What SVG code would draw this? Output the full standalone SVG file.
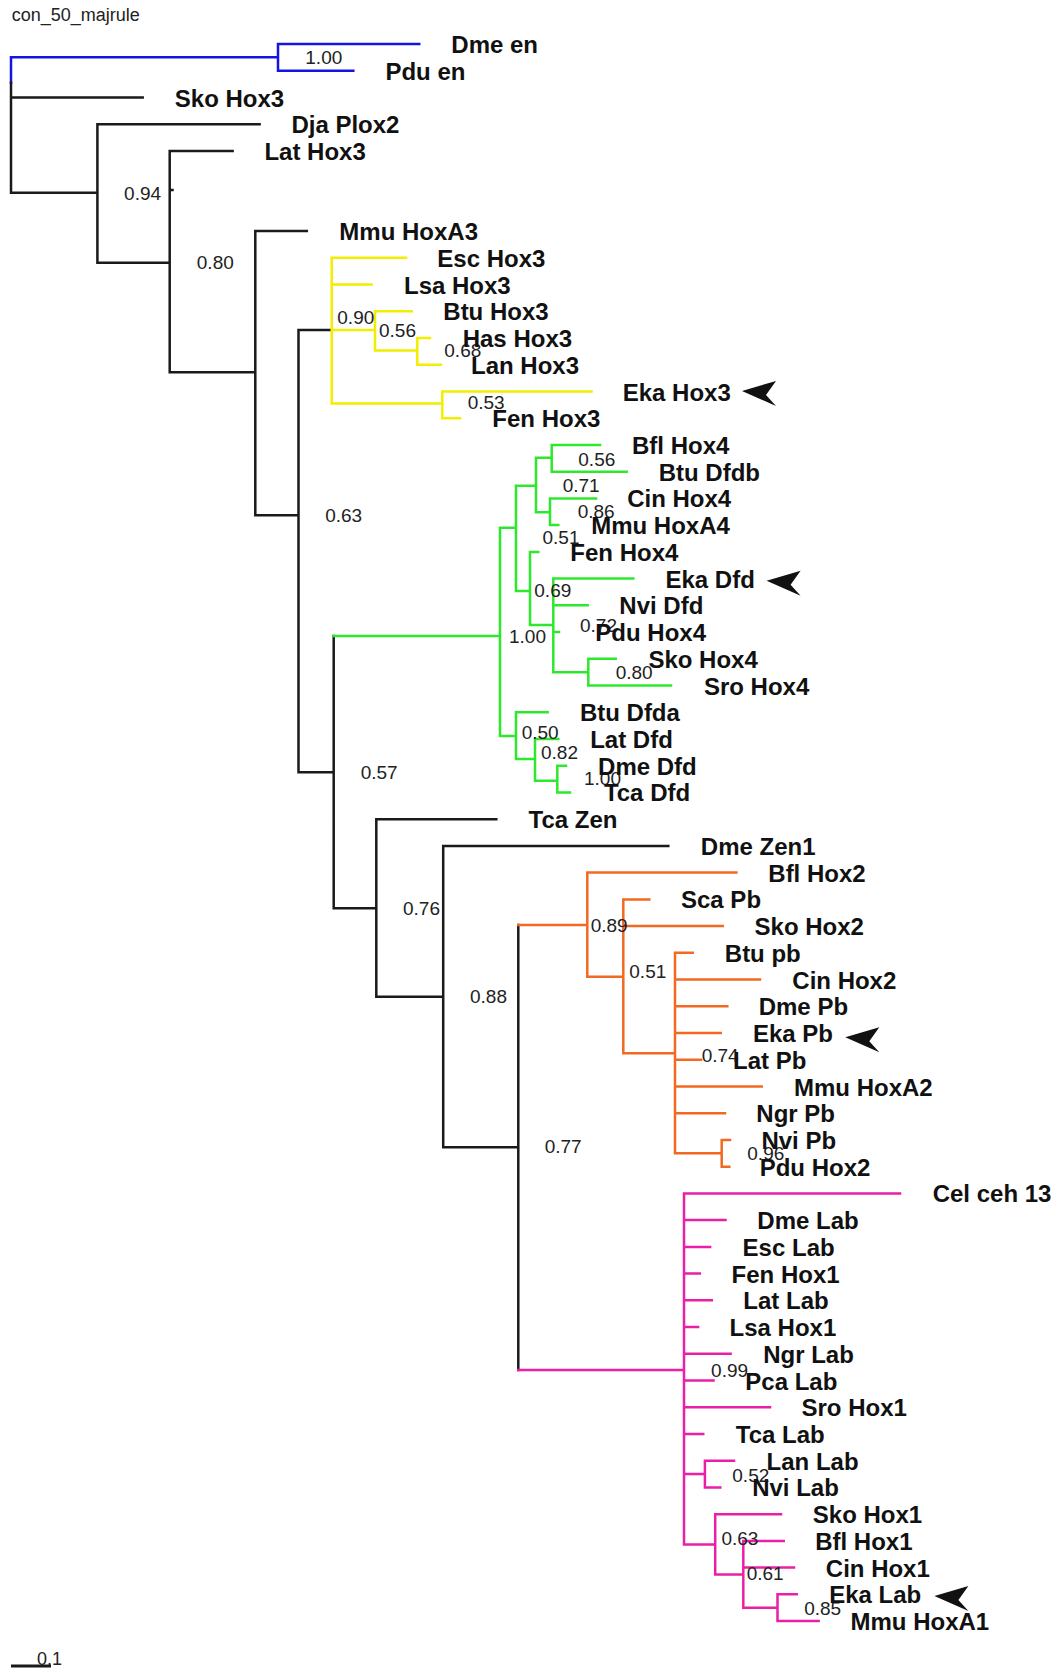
<svg xmlns="http://www.w3.org/2000/svg" xmlns:xlink="http://www.w3.org/1999/xlink" width="1057" height="1673" viewBox="0 0 1057 1673">
<style>
.e{fill:none;stroke-width:2.5;stroke-linecap:square}
.k{stroke:#1a1a1a}.b{stroke:#1414e0}.y{stroke:#f2ee00}.g{stroke:#2ee82e}.o{stroke:#f26a22}.m{stroke:#ea1fa5}
.lf{font-family:"Liberation Sans",Arial,sans-serif;font-weight:bold;font-size:24px;fill:#111}
.sp{font-family:"Liberation Sans",Arial,sans-serif;font-size:19px;fill:#222}
.ti{font-family:"Liberation Sans",Arial,sans-serif;font-size:18px;fill:#222}
</style>
<defs><path id="arr" d="M0,0 L34,-10 L24,4 L34,15 Z" fill="#111"/></defs>
<rect width="1057" height="1673" fill="#fff"/>
<text class="ti" x="11.8" y="20.7">con_50_majrule</text>
<g id="connectors">
<path class="e b" d="M11,57.3V82.7M11,57.3H278M278,44V70.7M278,44H419.2M278,70.7H353.3"/>
<path class="e k" d="M11,82.7V192.7M11,97.5H142.7M11,192.7H97.4M97.4,124.2V262.7M97.4,124.2H259.6M97.4,262.7H169.7M169.7,150.9V372.3M169.7,150.9H232.6M169.7,190H172.5M169.7,372.3H255.3M255.3,231.1V515.3M255.3,231.1H306.8M255.3,515.3H298.5M298.5,330V772.3M298.5,330H331.7M298.5,772.3H333.7M333.7,636V908.3M333.7,908.3H376.3M376.3,819.2V996.7M376.3,819.2H496.3M376.3,996.7H443.2M443.2,845.9V1147.3M443.2,845.9H668.3M443.2,1147.3H518.3M518.3,925V1370"/>
<path class="e y" d="M331.7,257.8V403.5M331.7,257.8H406M331.7,284.6H371.7M331.7,330H375M375,311.3V350.5M375,311.3H411.7M375,350.5H417.3M417.3,338V364.8M417.3,338H430M417.3,364.8H441M331.7,403.5H442.3M442.3,391.5V418.2M442.3,391.5H591.5M442.3,418.2H460"/>
<path class="e g" d="M333.7,636H500M500,527.7V736M500,527.7H516M516,485.7V591M516,485.7H536M536,457.7V512.3M536,457.7H551.7M551.7,444.9V471.7M551.7,444.9H600M551.7,471.7H626.7M536,512.3H550M550,498.4V525.1M550,498.4H596M550,525.1H558.3M516,591H530M530,551.9V625M530,551.9H538.3M530,625H553.3M553.3,578.6V672.3M553.3,578.6H633.3M553.3,605.3H587.7M553.3,632.1H559M553.3,672.3H588.3M588.3,658.8V685.5M588.3,658.8H615.7M588.3,685.5H671M500,736H516M516,712.3V759M516,712.3H547.7M516,759H535M535,739V780.7M535,739H558.3M535,780.7H557.3M557.3,765.7V792.4M557.3,765.7H566M557.3,792.4H570"/>
<path class="e o" d="M518.3,925H587.3M587.3,872.6V976.7M587.3,872.6H736.4M587.3,976.7H623.3M623.3,899.4V1053.3M623.3,899.4H649.3M623.3,926.1H722.7M623.3,1053.3H675M675,952.8V1153.3M675,952.8H692.7M675,979.6H760M675,1006.3H727.3M675,1033H720.7M675,1059.7H701M675,1086.5H761.7M675,1113.2H725M675,1153.3H721.7M721.7,1139.9V1166.7M721.7,1139.9H730M721.7,1166.7H729.3"/>
<path class="e m" d="M518.3,1370H684M684,1193.4V1544.6M684,1193.4H900M684,1220.1H725.5M684,1246.9H710.1M684,1273.6H699.8M684,1300.3H711.8M684,1327H698.1M684,1353.8H730.6M684,1380.5H713.5M684,1407.2H770M684,1434H703.2M684,1474H704.9M704.9,1460.7V1487.4M704.9,1460.7H734M704.9,1487.4H720.3M684,1544.6H715.2M715.2,1514.2V1574.6M715.2,1514.2H781M715.2,1574.6H743.3M743.3,1540.9V1607.7M743.3,1540.9H783.7M743.3,1567.6H794M743.3,1607.7H777.5M777.5,1594.3V1621.1M777.5,1594.3H796.7M777.5,1621.1H818.6"/>
</g>
<g id="support">
<text class="sp" x="305.3" y="63.9">1.00</text>
<text class="sp" x="124.1" y="199.9">0.94</text>
<text class="sp" x="196.8" y="269.3">0.80</text>
<text class="sp" x="325.2" y="521.9">0.63</text>
<text class="sp" x="337.3" y="323.6">0.90</text>
<text class="sp" x="379" y="336.6">0.56</text>
<text class="sp" x="444.3" y="356.6">0.68</text>
<text class="sp" x="467.7" y="409.3">0.53</text>
<text class="sp" x="578.3" y="465.9">0.56</text>
<text class="sp" x="562.7" y="492.3">0.71</text>
<text class="sp" x="577.7" y="518.3">0.86</text>
<text class="sp" x="542.5" y="543.6">0.51</text>
<text class="sp" x="534.3" y="596.6">0.69</text>
<text class="sp" x="580" y="631.6">0.72</text>
<text class="sp" x="509" y="642.6">1.00</text>
<text class="sp" x="615.7" y="678.9">0.80</text>
<text class="sp" x="521.7" y="739.3">0.50</text>
<text class="sp" x="541" y="759.3">0.82</text>
<text class="sp" x="584" y="784.9">1.00</text>
<text class="sp" x="360.7" y="778.9">0.57</text>
<text class="sp" x="403" y="914.9">0.76</text>
<text class="sp" x="470" y="1003.3">0.88</text>
<text class="sp" x="590.7" y="931.6">0.89</text>
<text class="sp" x="629.3" y="978.3">0.51</text>
<text class="sp" x="701.7" y="1061.6">0.74</text>
<text class="sp" x="747.3" y="1159.9">0.96</text>
<text class="sp" x="544.7" y="1153.3">0.77</text>
<text class="sp" x="711.1" y="1376.6">0.99</text>
<text class="sp" x="732.3" y="1481.6">0.52</text>
<text class="sp" x="721.4" y="1544.9">0.63</text>
<text class="sp" x="746.7" y="1579.9">0.61</text>
<text class="sp" x="804.2" y="1614.9">0.85</text>
</g>
<g id="leaf-dme-en"><text class="lf" x="451.3" y="53">Dme en</text></g>
<g id="leaf-pdu-en"><text class="lf" x="385.4" y="79.7">Pdu en</text></g>
<g id="leaf-sko-hox3"><text class="lf" x="174.8" y="106.5">Sko Hox3</text></g>
<g id="leaf-dja-plox2"><text class="lf" x="291.4" y="133.2">Dja Plox2</text></g>
<g id="leaf-lat-hox3"><text class="lf" x="264.4" y="159.9">Lat Hox3</text></g>
<g id="leaf-mmu-hoxa3"><text class="lf" x="339.3" y="240.1">Mmu HoxA3</text></g>
<g id="leaf-esc-hox3"><text class="lf" x="437.3" y="266.8">Esc Hox3</text></g>
<g id="leaf-lsa-hox3"><text class="lf" x="404" y="293.6">Lsa Hox3</text></g>
<g id="leaf-btu-hox3"><text class="lf" x="443.3" y="320.3">Btu Hox3</text></g>
<g id="leaf-has-hox3"><text class="lf" x="462.7" y="347">Has Hox3</text></g>
<g id="leaf-lan-hox3"><text class="lf" x="471" y="373.8">Lan Hox3</text></g>
<g id="leaf-eka-hox3"><text class="lf" x="622.7" y="400.5">Eka Hox3</text></g>
<g id="leaf-fen-hox3"><text class="lf" x="492.3" y="427.2">Fen Hox3</text></g>
<g id="leaf-bfl-hox4"><text class="lf" x="632" y="453.9">Bfl Hox4</text></g>
<g id="leaf-btu-dfdb"><text class="lf" x="658.7" y="480.7">Btu Dfdb</text></g>
<g id="leaf-cin-hox4"><text class="lf" x="627.2" y="507.4">Cin Hox4</text></g>
<g id="leaf-mmu-hoxa4"><text class="lf" x="591.2" y="534.1">Mmu HoxA4</text></g>
<g id="leaf-fen-hox4"><text class="lf" x="570.3" y="560.9">Fen Hox4</text></g>
<g id="leaf-eka-dfd"><text class="lf" x="665.5" y="587.6">Eka Dfd</text></g>
<g id="leaf-nvi-dfd"><text class="lf" x="619.3" y="614.3">Nvi Dfd</text></g>
<g id="leaf-pdu-hox4"><text class="lf" x="595.3" y="641.1">Pdu Hox4</text></g>
<g id="leaf-sko-hox4"><text class="lf" x="648.4" y="667.8">Sko Hox4</text></g>
<g id="leaf-sro-hox4"><text class="lf" x="703.9" y="694.5">Sro Hox4</text></g>
<g id="leaf-btu-dfda"><text class="lf" x="579.9" y="721.3">Btu Dfda</text></g>
<g id="leaf-lat-dfd"><text class="lf" x="590.2" y="748">Lat Dfd</text></g>
<g id="leaf-dme-dfd"><text class="lf" x="598.1" y="774.7">Dme Dfd</text></g>
<g id="leaf-tca-dfd"><text class="lf" x="603.9" y="801.4">Tca Dfd</text></g>
<g id="leaf-tca-zen"><text class="lf" x="528.6" y="828.2">Tca Zen</text></g>
<g id="leaf-dme-zen1"><text class="lf" x="700.8" y="854.9">Dme Zen1</text></g>
<g id="leaf-bfl-hox2"><text class="lf" x="768.3" y="881.6">Bfl Hox2</text></g>
<g id="leaf-sca-pb"><text class="lf" x="681" y="908.4">Sca Pb</text></g>
<g id="leaf-sko-hox2"><text class="lf" x="754.6" y="935.1">Sko Hox2</text></g>
<g id="leaf-btu-pb"><text class="lf" x="724.8" y="961.8">Btu pb</text></g>
<g id="leaf-cin-hox2"><text class="lf" x="792.3" y="988.6">Cin Hox2</text></g>
<g id="leaf-dme-pb"><text class="lf" x="758.7" y="1015.3">Dme Pb</text></g>
<g id="leaf-eka-pb"><text class="lf" x="752.9" y="1042">Eka Pb</text></g>
<g id="leaf-lat-pb"><text class="lf" x="733" y="1068.7">Lat Pb</text></g>
<g id="leaf-mmu-hoxa2"><text class="lf" x="794" y="1095.5">Mmu HoxA2</text></g>
<g id="leaf-ngr-pb"><text class="lf" x="756.3" y="1122.2">Ngr Pb</text></g>
<g id="leaf-nvi-pb"><text class="lf" x="761.4" y="1148.9">Nvi Pb</text></g>
<g id="leaf-pdu-hox2"><text class="lf" x="759.7" y="1175.7">Pdu Hox2</text></g>
<g id="leaf-cel-ceh13"><text class="lf" x="932.7" y="1202.4">Cel ceh 13</text></g>
<g id="leaf-dme-lab"><text class="lf" x="757.3" y="1229.1">Dme Lab</text></g>
<g id="leaf-esc-lab"><text class="lf" x="742.6" y="1255.9">Esc Lab</text></g>
<g id="leaf-fen-hox1"><text class="lf" x="731.6" y="1282.6">Fen Hox1</text></g>
<g id="leaf-lat-lab"><text class="lf" x="743.3" y="1309.3">Lat Lab</text></g>
<g id="leaf-lsa-hox1"><text class="lf" x="729.6" y="1336">Lsa Hox1</text></g>
<g id="leaf-ngr-lab"><text class="lf" x="763.2" y="1362.8">Ngr Lab</text></g>
<g id="leaf-pca-lab"><text class="lf" x="745.3" y="1389.5">Pca Lab</text></g>
<g id="leaf-sro-hox1"><text class="lf" x="801.5" y="1416.2">Sro Hox1</text></g>
<g id="leaf-tca-lab"><text class="lf" x="735.8" y="1443">Tca Lab</text></g>
<g id="leaf-lan-lab"><text class="lf" x="766.6" y="1469.7">Lan Lab</text></g>
<g id="leaf-nvi-lab"><text class="lf" x="752.2" y="1496.4">Nvi Lab</text></g>
<g id="leaf-sko-hox1"><text class="lf" x="812.8" y="1523.2">Sko Hox1</text></g>
<g id="leaf-bfl-hox1"><text class="lf" x="815.2" y="1549.9">Bfl Hox1</text></g>
<g id="leaf-cin-hox1"><text class="lf" x="825.8" y="1576.6">Cin Hox1</text></g>
<g id="leaf-eka-lab"><text class="lf" x="829.2" y="1603.3">Eka Lab</text></g>
<g id="leaf-mmu-hoxa1"><text class="lf" x="850.5" y="1630.1">Mmu HoxA1</text></g>
<g id="pointers">
<use xlink:href="#arr" href="#arr" x="742" y="391"/>
<use xlink:href="#arr" href="#arr" x="766.6" y="580.7"/>
<use xlink:href="#arr" href="#arr" x="845.3" y="1037.3"/>
<use xlink:href="#arr" href="#arr" x="934.4" y="1596"/>
</g>
<g id="scale-bar">
<path class="e k" d="M11,1666H51" style="stroke-linecap:butt;stroke-width:3"/>
<text class="ti" x="37" y="1665">0.1</text>
</g>
</svg>
